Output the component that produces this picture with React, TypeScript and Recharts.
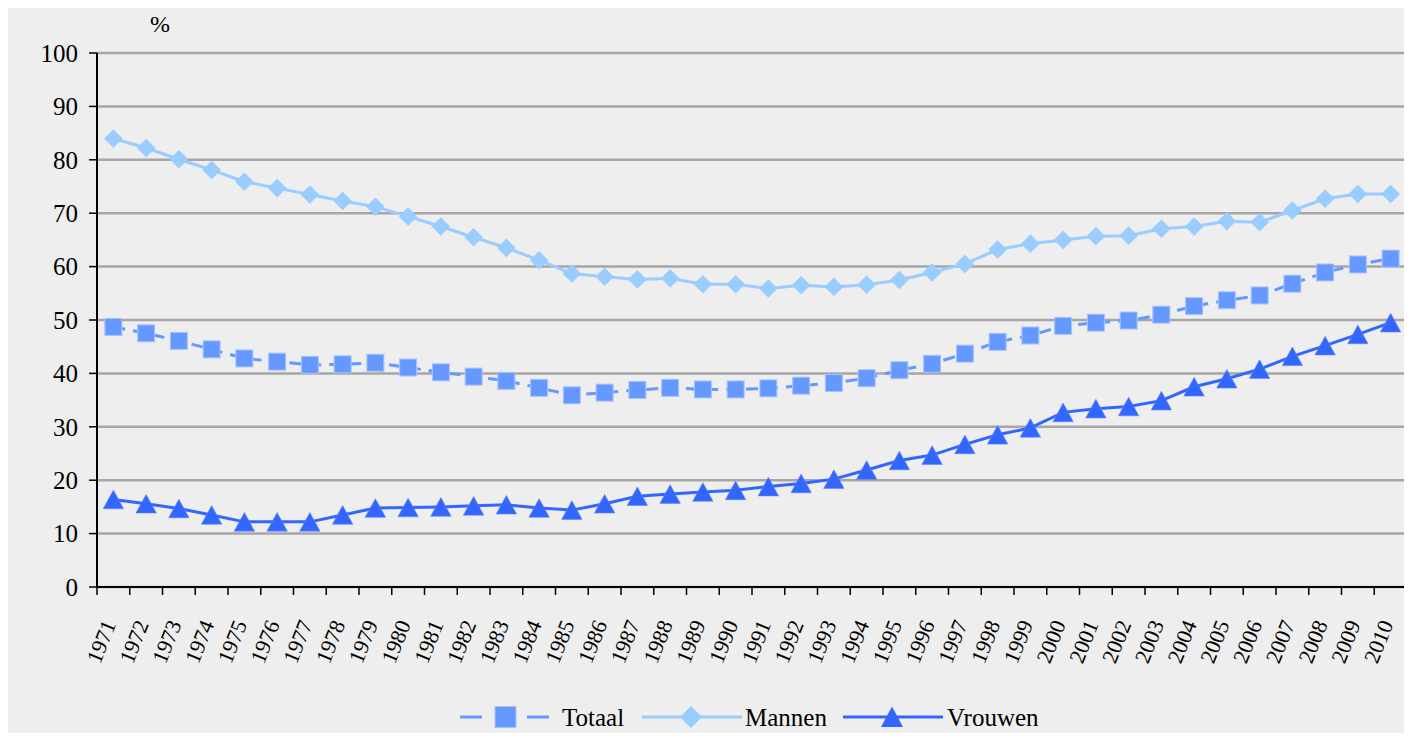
import React from 'react';
import { LineChart, Line, XAxis, YAxis, CartesianGrid, Legend } from 'recharts';

const years = [
  '1971', '1972', '1973', '1974', '1975', '1976', '1977', '1978', '1979', '1980',
  '1981', '1982', '1983', '1984', '1985', '1986', '1987', '1988', '1989', '1990',
  '1991', '1992', '1993', '1994', '1995', '1996', '1997', '1998', '1999', '2000',
  '2001', '2002', '2003', '2004', '2005', '2006', '2007', '2008', '2009', '2010',
];

const totaal = [
  48.7, 47.5, 46.1, 44.5, 42.8, 42.2, 41.6, 41.7, 42.0, 41.1,
  40.2, 39.4, 38.6, 37.3, 35.9, 36.4, 36.9, 37.3, 37.0, 37.0,
  37.2, 37.7, 38.2, 39.1, 40.6, 41.8, 43.7, 45.9, 47.1, 48.9,
  49.5, 49.9, 51.0, 52.6, 53.7, 54.6, 56.8, 58.9, 60.4, 61.5,
];

const mannen = [
  84.0, 82.2, 80.1, 78.1, 75.9, 74.7, 73.5, 72.3, 71.2, 69.4,
  67.5, 65.5, 63.5, 61.2, 58.7, 58.1, 57.6, 57.8, 56.7, 56.7,
  55.9, 56.5, 56.2, 56.6, 57.5, 58.9, 60.5, 63.2, 64.3, 65.0,
  65.7, 65.8, 67.1, 67.5, 68.5, 68.3, 70.5, 72.7, 73.6, 73.6,
];

const vrouwen = [
  16.4, 15.6, 14.7, 13.5, 12.2, 12.2, 12.2, 13.5, 14.8, 14.9,
  15.0, 15.2, 15.4, 14.8, 14.4, 15.6, 17.0, 17.4, 17.8, 18.1,
  18.8, 19.4, 20.2, 21.9, 23.7, 24.7, 26.7, 28.5, 29.8, 32.7,
  33.4, 33.8, 34.9, 37.5, 39.0, 40.8, 43.2, 45.2, 47.3, 49.5,
];

const yTicks = [0, 10, 20, 30, 40, 50, 60, 70, 80, 90, 100];

const seriesNames = { totaal: 'Totaal', mannen: 'Mannen', vrouwen: 'Vrouwen' };

const data = years.map((year, i) => ({
  year,
  totaal: totaal[i],
  mannen: mannen[i],
  vrouwen: vrouwen[i],
}));

const FONT = "'Liberation Serif', 'Times New Roman', serif";
const C_TOT = '#6699FF';
const C_MAN = '#99CCFF';
const C_VRO = '#3366FF';

const SquareDot = (p: any) => {
  const { cx, cy, index } = p;
  if (cx == null || cy == null) return <g key={`s${index}`} />;
  return (
    <rect key={`s${index}`} x={cx - 8.5} y={cy - 8.5} width={17} height={17}
      fill={C_TOT} stroke="#A8C4FF" strokeWidth={1} />
  );
};

const DiamondDot = (p: any) => {
  const { cx, cy, index } = p;
  if (cx == null || cy == null) return <g key={`d${index}`} />;
  const r = 9.3;
  return (
    <path key={`d${index}`}
      d={`M${cx},${cy - r}L${cx + r},${cy}L${cx},${cy + r}L${cx - r},${cy}Z`}
      fill={C_MAN} />
  );
};

const TriangleDot = (p: any) => {
  const { cx, cy, index } = p;
  if (cx == null || cy == null) return <g key={`t${index}`} />;
  return (
    <path key={`t${index}`}
      d={`M${cx},${cy - 9.3}L${cx + 10.2},${cy + 9.3}L${cx - 10.2},${cy + 9.3}Z`}
      fill={C_VRO} stroke="#5A85FF" strokeWidth={0.6} />
  );
};

const XTick = (p: any) => {
  const { x, y, payload, width, visibleTicksCount, index } = p;
  const bw = width && visibleTicksCount ? width / visibleTicksCount : 0;
  const tx = x + 3;
  const ty = y + 37;
  const isLast = index === visibleTicksCount - 1;
  return (
    <g>
      <line x1={x - bw / 2} y1={y} x2={x - bw / 2} y2={y + 8} stroke="#000" strokeWidth={1.5} />
      {isLast && <line x1={x + bw / 2} y1={y} x2={x + bw / 2} y2={y + 8} stroke="#000" strokeWidth={1.5} />}
      <text x={tx} y={ty} textAnchor="end" fontSize={22} fill="#000" fontFamily={FONT}
        transform={`rotate(-68 ${tx} ${ty})`}>
        {payload.value}
      </text>
    </g>
  );
};

const LegendContent = () => (
  <div style={{ position: 'relative', width: 1404, height: 40, fontFamily: FONT, fontSize: 25, color: '#000', lineHeight: '40px' }}>
    <svg style={{ position: 'absolute', left: 452, top: 0 }} width={90} height={40}>
      <line x1={0} y1={19} x2={22} y2={19} stroke={C_TOT} strokeWidth={3} />
      <line x1={67} y1={19} x2={89} y2={19} stroke={C_TOT} strokeWidth={3} />
      <rect x={35} y={8.5} width={21} height={21} fill={C_TOT} stroke="#A8C4FF" strokeWidth={1} />
    </svg>
    <span style={{ position: 'absolute', left: 554, top: 0 }}>{seriesNames.totaal}</span>
    <svg style={{ position: 'absolute', left: 634, top: 0 }} width={100} height={40}>
      <line x1={0} y1={19} x2={100} y2={19} stroke={C_MAN} strokeWidth={3} />
      <path d="M49,8L60,19L49,30L38,19Z" fill={C_MAN} />
    </svg>
    <span style={{ position: 'absolute', left: 737, top: 0 }}>{seriesNames.mannen}</span>
    <svg style={{ position: 'absolute', left: 835, top: 0 }} width={100} height={40}>
      <line x1={0} y1={19} x2={100} y2={19} stroke={C_VRO} strokeWidth={3} />
      <path d="M49,8.5L60,29L38,29Z" fill={C_VRO} />
    </svg>
    <span style={{ position: 'absolute', left: 939, top: 0 }}>{seriesNames.vrouwen}</span>
  </div>
);

export default function App() {
  return (
    <div style={{ position: 'relative', width: 1404, height: 733, background: '#EEEEEE', fontFamily: FONT, marginBottom: -8 }}>
      <LineChart width={1404} height={733} data={data}
        margin={{ top: 45, right: 5, left: 0, bottom: 3 }}
        style={{ fontFamily: FONT }}>
        <CartesianGrid horizontal vertical={false} stroke="#A6A6A6" strokeWidth={2.5} />
        <XAxis xAxisId={0} dataKey="year" scale="band" height={111} interval={0}
          axisLine={{ stroke: '#000', strokeWidth: 2 }} tickLine={false}
          tickSize={0} tickMargin={0} tick={<XTick />} />
        <YAxis yAxisId={0} domain={[0, 100]} ticks={yTicks} width={89} interval={0}
          axisLine={{ stroke: '#000', strokeWidth: 2 }} tickLine={{ stroke: '#000', strokeWidth: 1.5 }}
          tickSize={8} tickMargin={11}
          tick={{ fill: '#000', fontSize: 25, fontFamily: FONT }}
          label={{
            content: (lp: any) => {
              const vb = lp.viewBox || { x: 0, y: 45, width: 89 };
              return (
                <text x={vb.x + vb.width + 53} y={vb.y - 21} fontSize={24} fill="#000" fontFamily={FONT}>%</text>
              );
            },
          }} />
        <YAxis yAxisId="border" orientation="right" width={0} domain={[0, 100]}
          axisLine={{ stroke: '#8E8E8E', strokeWidth: 3 }} tickLine={false} tick={false} />
        <Legend verticalAlign="bottom" content={<LegendContent />}
          wrapperStyle={{ left: 0, bottom: 3, width: 1404, height: 40 }} />
        <Line type="linear" dataKey="totaal" name={seriesNames.totaal} stroke={C_TOT} strokeWidth={3}
          strokeDasharray="12 8" dot={SquareDot} activeDot={false} isAnimationActive={false} />
        <Line type="linear" dataKey="mannen" name={seriesNames.mannen} stroke={C_MAN} strokeWidth={3}
          dot={DiamondDot} activeDot={false} isAnimationActive={false} />
        <Line type="linear" dataKey="vrouwen" name={seriesNames.vrouwen} stroke={C_VRO} strokeWidth={3}
          dot={TriangleDot} activeDot={false} isAnimationActive={false} />
      </LineChart>
    </div>
  );
}
